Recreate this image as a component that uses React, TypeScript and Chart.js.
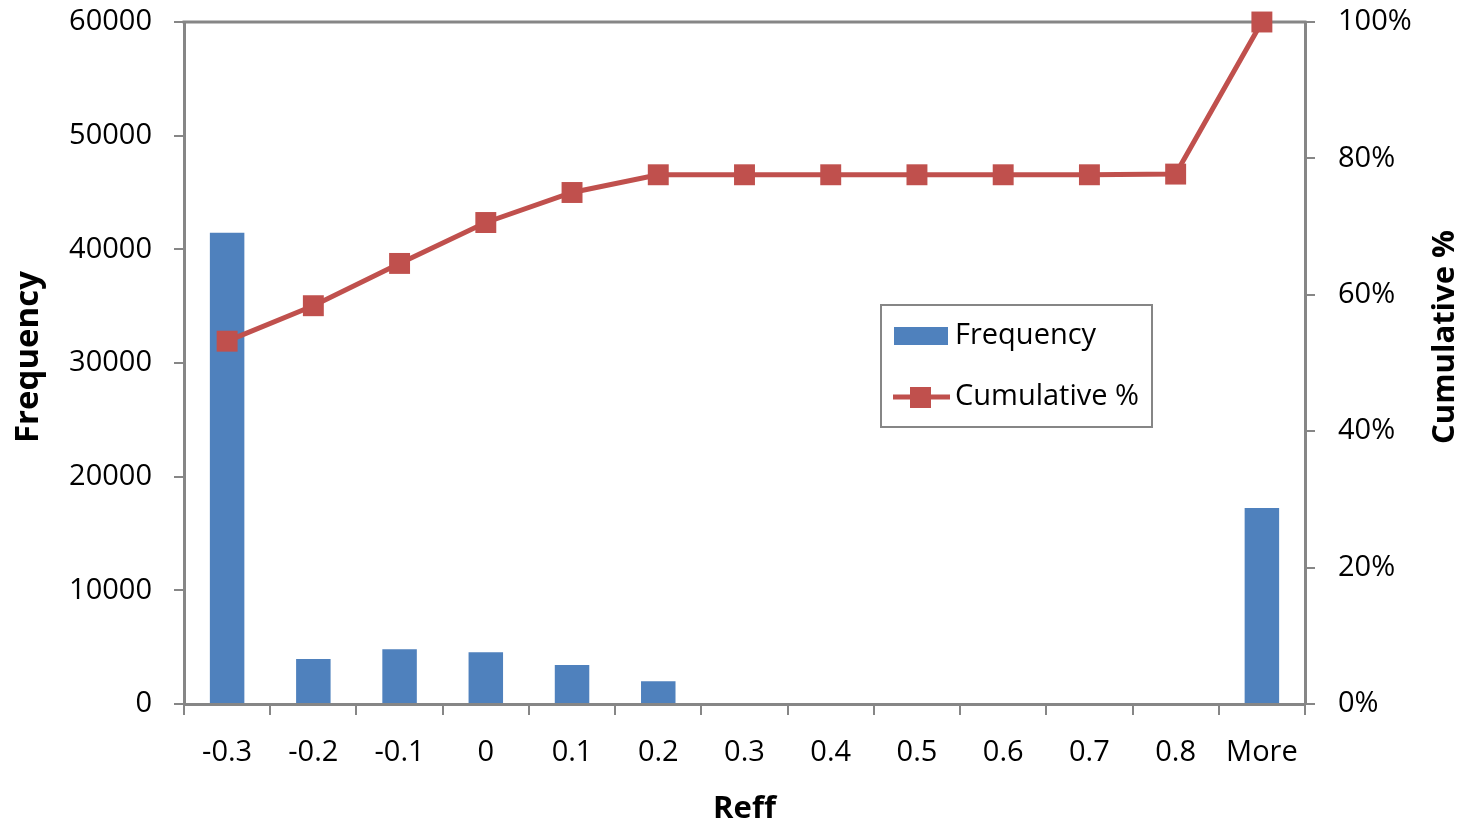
import React, { useEffect, useRef } from "react";
import { Chart, registerables } from "chart.js";

Chart.register(...registerables);

const categories = ["-0.3", "-0.2", "-0.1", "0", "0.1", "0.2", "0.3", "0.4", "0.5", "0.6", "0.7", "0.8", "More"];
const frequency = [41460, 3950, 4810, 4550, 3430, 2000, 0, 0, 0, 0, 0, 0, 17240];
const cumulativePct = [53.2, 58.4, 64.6, 70.6, 75.0, 77.6, 77.6, 77.6, 77.6, 77.6, 77.6, 77.7, 100];
const freqTicks = [0, 10000, 20000, 30000, 40000, 50000, 60000];
const pctTicks = [0, 20, 40, 60, 80, 100];
const xTitle = "Reff";
const yTitle = "Frequency";
const y1Title = "Cumulative %";

const FONT = "'Open Sans', 'Liberation Sans', sans-serif";
const GRAY = "#868686";
const BLUE = "#4F81BD";
const RED = "#C0504D";

const decorPlugin = {
  id: "decor",
  beforeDatasetsDraw(chart: any) {
    const { ctx, chartArea } = chart;
    ctx.save();
    ctx.strokeStyle = GRAY;
    ctx.lineWidth = 3;
    ctx.beginPath();
    ctx.moveTo(chartArea.left - 1.5, chartArea.top);
    ctx.lineTo(chartArea.right + 1.5, chartArea.top);
    ctx.stroke();
    ctx.restore();
  },
  afterDraw(chart: any) {
    const { ctx, chartArea } = chart;
    ctx.save();
    // Axis titles
    ctx.fillStyle = "#000";
    ctx.font = `bold 31px ${FONT}`;
    ctx.textAlign = "center";
    ctx.textBaseline = "alphabetic";
    ctx.fillText(xTitle, (chartArea.left + chartArea.right) / 2, 818);

    ctx.save();
    ctx.font = `bold 33px ${FONT}`;
    ctx.translate(38, 357);
    ctx.rotate(-Math.PI / 2);
    ctx.fillText(yTitle, 0, 0);
    ctx.restore();

    ctx.save();
    ctx.translate(1454, 337);
    ctx.rotate(-Math.PI / 2);
    ctx.fillText(y1Title, 0, 0);
    ctx.restore();

    // Legend box
    const ds = chart.data.datasets;
    ctx.fillStyle = "#fff";
    ctx.fillRect(881, 305, 271, 122);
    ctx.strokeStyle = GRAY;
    ctx.lineWidth = 2;
    ctx.strokeRect(881, 305, 271, 122);

    ctx.fillStyle = BLUE;
    ctx.fillRect(894, 327, 54, 18);

    ctx.strokeStyle = RED;
    ctx.lineWidth = 5;
    ctx.beginPath();
    ctx.moveTo(893, 397);
    ctx.lineTo(950, 397);
    ctx.stroke();
    ctx.fillStyle = RED;
    ctx.fillRect(910, 387, 21, 21);

    ctx.fillStyle = "#000";
    ctx.font = `29px ${FONT}`;
    ctx.textAlign = "left";
    ctx.textBaseline = "middle";
    ctx.fillText(ds[0].label, 955, 336);
    ctx.fillText(ds[1].label, 955, 397);
    ctx.restore();
  },
};

export default function App() {
  const ref = useRef<HTMLCanvasElement | null>(null);

  useEffect(() => {
    if (!ref.current) return;
    const tickFont = { family: FONT, size: 29 };
    const chart = new Chart(ref.current, {
      type: "bar",
      data: {
        labels: categories,
        datasets: [
          {
            type: "bar",
            label: "Frequency",
            data: frequency,
            backgroundColor: BLUE,
            borderWidth: 0,
            barPercentage: 0.4,
            categoryPercentage: 1,
            yAxisID: "y",
            order: 2,
          } as any,
          {
            type: "line",
            label: "Cumulative %",
            data: cumulativePct,
            borderColor: RED,
            backgroundColor: RED,
            borderWidth: 5,
            tension: 0,
            pointStyle: "rect",
            pointRadius: 14.8,
            pointBackgroundColor: RED,
            pointBorderColor: RED,
            pointBorderWidth: 0,
            yAxisID: "y1",
            clip: false,
            order: 1,
          } as any,
        ],
      },
      options: {
        responsive: false,
        animation: false,
        layout: { padding: { top: 22, left: 0, right: 0, bottom: 0 } },
        plugins: {
          legend: { display: false },
          tooltip: { enabled: false },
          title: { display: false },
        },
        scales: {
          x: {
            type: "category",
            offset: true,
            z: 1,
            grid: {
              offset: true,
              drawOnChartArea: false,
              drawTicks: true,
              tickLength: 11,
              color: GRAY,
              lineWidth: 2,
            },
            border: { display: true, color: GRAY, width: 3 },
            ticks: { font: tickFont, color: "#000", padding: 20, maxRotation: 0, autoSkip: false },
            afterFit: (s: any) => {
              s.height = 120;
              s.paddingLeft = 0;
              s.paddingRight = 0;
            },
          },
          y: {
            type: "linear",
            position: "left",
            min: 0,
            max: 60000,
            afterBuildTicks: (s: any) => {
              s.ticks = freqTicks.map((v) => ({ value: v }));
            },
            grid: { drawOnChartArea: false, drawTicks: true, tickLength: 10, color: GRAY, lineWidth: 2 },
            border: { display: true, color: GRAY, width: 3 },
            ticks: { font: tickFont, color: "#000", padding: 22, callback: (v: any) => String(v) },
            afterFit: (s: any) => {
              s.width = 184;
              s.paddingTop = 0;
              s.paddingBottom = 0;
            },
          },
          y1: {
            type: "linear",
            position: "right",
            min: 0,
            max: 100,
            afterBuildTicks: (s: any) => {
              s.ticks = pctTicks.map((v) => ({ value: v }));
            },
            grid: { drawOnChartArea: false, drawTicks: true, tickLength: 10, color: GRAY, lineWidth: 2 },
            border: { display: true, color: GRAY, width: 3 },
            ticks: { font: tickFont, color: "#000", padding: 23, callback: (v: any) => `${v}%` },
            afterFit: (s: any) => {
              s.width = 161;
              s.paddingTop = 0;
              s.paddingBottom = 0;
            },
          },
        },
      } as any,
      plugins: [decorPlugin],
    });
    return () => chart.destroy();
  }, []);

  return (
    <div style={{ position: "fixed", left: 0, top: 0, width: 1466, height: 824, background: "#fff" }}>
      <canvas ref={ref} width={1466} height={824} style={{ display: "block" }} />
    </div>
  );
}
